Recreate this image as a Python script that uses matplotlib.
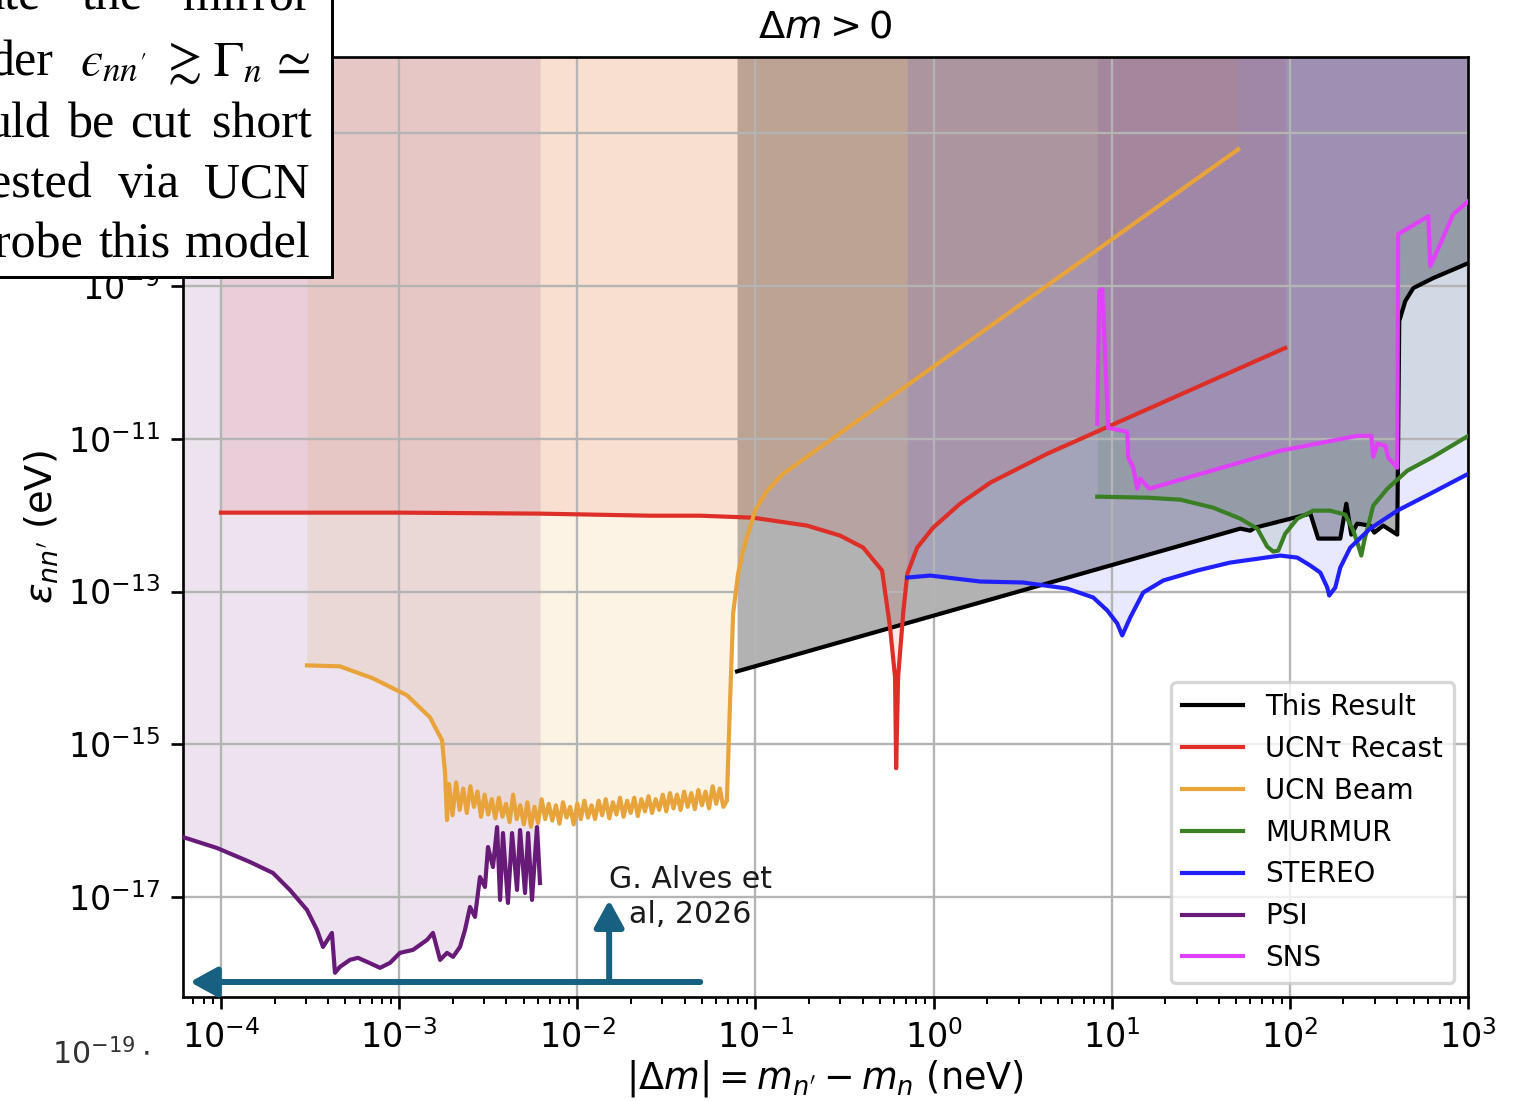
import numpy as np
import matplotlib
matplotlib.use("Agg")
import matplotlib.pyplot as plt
from matplotlib.patches import Rectangle
from matplotlib.transforms import blended_transform_factory

# ---------------------------------------------------------------------------
# Exclusion curves, given as log10(|Δm| / neV) and log10(ε_nn' / eV)
# ---------------------------------------------------------------------------
this_result_ldm = [-1.103, 1.722, 1.778, 1.806, 2.115, 2.159, 2.283, 2.317, 2.345,
                   2.378, 2.451, 2.474, 2.524, 2.586, 2.603, 2.614, 2.648, 2.693,
                   2.805, 3.002]
this_result_leps = [-14.046, -12.176, -12.203, -12.163, -11.980, -12.307, -12.307,
                    -11.850, -12.255, -12.111, -12.137, -12.229, -12.137, -12.229,
                    -12.255, -9.458, -9.196, -9.026, -8.895, -8.699]

ucntau_ldm = [-4.000, -2.995, -2.209, -1.591, -1.310, -1.013, -0.710, -0.524, -0.395,
              -0.289, -0.244, -0.216, -0.210, -0.199, -0.169, -0.147, -0.092, -0.002,
              0.149, 0.318, 0.638, 1.974]
ucntau_leps = [-11.967, -11.967, -11.980, -12.007, -12.007, -12.033, -12.137, -12.268,
               -12.425, -12.725, -13.471, -14.124, -15.314, -14.124, -13.248, -12.765,
               -12.425, -12.163, -11.850, -11.575, -11.196, -9.810]

ucn_beam_ldm = [-3.517, -3.332, -3.147, -2.956, -2.827, -2.759, -2.742, -2.731,
                -2.72, -2.70, -2.68, -2.66, -2.64, -2.62, -2.60, -2.58, -2.56,
                -2.54, -2.52, -2.50, -2.48, -2.46, -2.44, -2.42, -2.40, -2.38, -2.36,
                -2.34, -2.32,
                -2.30, -2.28, -2.26, -2.24, -2.22, -2.20, -2.18,
                -2.16, -2.14, -2.12, -2.10, -2.08, -2.06, -2.04, -2.02, -2.00, -1.98,
                -1.96, -1.94, -1.92,
                -1.90, -1.88, -1.86, -1.84, -1.82, -1.80, -1.78, -1.76, -1.74, -1.72,
                -1.70, -1.68, -1.66, -1.64, -1.62, -1.60, -1.58, -1.56,
                -1.54, -1.52, -1.50, -1.48, -1.46, -1.44, -1.42, -1.40, -1.38, -1.36,
                -1.34, -1.32, -1.30, -1.28, -1.26, -1.24, -1.22, -1.20, -1.18, -1.16,
                -1.153, -1.142, -1.125, -1.097, -1.069, -1.002, -0.934, -0.844, 1.710]
ucn_beam_leps = [-13.967, -13.980, -14.137, -14.359, -14.647, -14.948, -15.379, -15.993,
                 -15.52, -15.93, -15.50, -15.86, -15.58, -15.90, -15.55, -15.82, -15.62,
                 -15.95, -15.66, -15.92, -15.72, -15.97, -15.70, -15.95, -15.78, -16.02,
                 -15.66, -15.98, -15.80,
                 -16.05, -15.76, -16.08, -15.82, -16.03, -15.72, -15.98,
                 -15.78, -16.00, -15.80, -16.04, -15.76, -15.96, -15.82, -16.05, -15.78,
                 -15.98, -15.74, -15.96, -15.80,
                 -15.98, -15.74, -15.93, -15.72, -15.97, -15.76, -15.92, -15.70, -15.95,
                 -15.74, -15.90, -15.70, -15.94, -15.72, -15.88, -15.68, -15.90, -15.72,
                 -15.86, -15.66, -15.88, -15.64, -15.84, -15.66, -15.86, -15.62, -15.82,
                 -15.64, -15.85, -15.60, -15.80, -15.62, -15.84, -15.55, -15.78, -15.58,
                 -15.82, -15.74,
                 -15.209, -14.425, -13.288, -12.765, -12.464, -11.941, -11.680, -11.458,
                 -7.209]

murmur_ldm = [0.919, 1.199, 1.385, 1.570, 1.722, 1.817, 1.873, 1.907, 1.935, 1.974,
              2.042, 2.131, 2.227, 2.311, 2.356, 2.384, 2.401, 2.418, 2.440, 2.468,
              2.547, 2.659, 2.805, 3.002]
murmur_leps = [-11.758, -11.771, -11.797, -11.902, -12.046, -12.176, -12.412, -12.477,
               -12.464, -12.242, -12.046, -11.941, -11.941, -11.993, -12.203, -12.399,
               -12.529, -12.333, -12.137, -11.876, -11.654, -11.418, -11.235, -10.961]

stereo_ldm = [-0.148, -0.019, 0.262, 0.503, 0.750, 0.896, 0.975, 1.031, 1.059, 1.104,
              1.177, 1.289, 1.480, 1.665, 1.946, 2.042, 2.115, 2.171, 2.210, 2.221,
              2.255, 2.283, 2.339, 2.451, 2.603, 2.788, 3.002]
stereo_leps = [-12.817, -12.791, -12.869, -12.882, -12.961, -13.078, -13.248, -13.418,
               -13.575, -13.340, -13.013, -12.856, -12.725, -12.621, -12.529, -12.556,
               -12.660, -12.752, -12.948, -13.052, -12.948, -12.686, -12.425, -12.176,
               -11.941, -11.719, -11.458]

psi_ldm = [-4.213, -4.022, -3.837, -3.708, -3.613, -3.517, -3.461, -3.427, -3.377,
           -3.360, -3.332, -3.276, -3.231, -3.180, -3.107, -3.051, -2.995, -2.922,
           -2.843, -2.810, -2.770, -2.731, -2.697, -2.658, -2.630, -2.602, -2.574,
           -2.546, -2.518, -2.501, -2.473, -2.450, -2.433, -2.417, -2.389, -2.366,
           -2.338, -2.321, -2.293, -2.276, -2.254, -2.226, -2.209]
psi_leps = [-16.216, -16.359, -16.542, -16.686, -16.908, -17.170, -17.431, -17.654,
            -17.471, -17.993, -17.915, -17.824, -17.797, -17.850, -17.928, -17.863,
            -17.732, -17.693, -17.562, -17.471, -17.824, -17.732, -17.784, -17.654,
            -17.431, -17.131, -17.261, -16.739, -16.869, -16.346, -16.608, -16.085,
            -17.039, -16.163, -17.078, -16.163, -16.908, -16.124, -16.948, -16.163,
            -17.039, -16.085, -16.817]

sns_ldm = [0.919, 0.930, 0.947, 0.980, 1.087, 1.093, 1.121, 1.143, 1.160, 1.211,
           1.946, 2.378, 2.457, 2.468, 2.491, 2.536, 2.552, 2.603, 2.608, 2.777,
           2.788, 2.844, 2.917, 3.002]
sns_leps = [-10.804, -9.065, -9.039, -10.856, -10.908, -11.248, -11.379, -11.654,
            -11.523, -11.654, -11.157, -10.961, -10.961, -11.235, -11.065, -11.092,
            -11.248, -11.379, -8.320, -8.085, -8.739, -8.451, -8.059, -7.889]

# label, x, y, line colour, fill alpha
curves = [
    ("This Result", this_result_ldm, this_result_leps, "black", 0.30),
    ("UCN\u03c4 Recast", ucntau_ldm, ucntau_leps, "#DD2E27", 0.11),
    ("UCN Beam", ucn_beam_ldm, ucn_beam_leps, "#E8A33A", 0.13),
    ("MURMUR", murmur_ldm, murmur_leps, "#3B7F24", 0.13),
    ("STEREO", stereo_ldm, stereo_leps, "#2020FF", 0.10),
    ("PSI", psi_ldm, psi_leps, "#681A78", 0.12),
    ("SNS", sns_ldm, sns_leps, "#E040FB", 0.12),
]

x_tick_exponents = [-4, -3, -2, -1, 0, 1, 2, 3]
y_tick_exponents = [-17, -15, -13, -11, -9, -7]
y_tick_shown = [True, True, True, True, True, False]

x_limits = (10 ** -4.213, 1e3)
y_limits = (10 ** -18.31, 1e-6)

W, H, DPI = 1524, 1101, 240
fig = plt.figure(figsize=(W / DPI, H / DPI), dpi=DPI)
ax = fig.add_axes([183 / W, 1 - 997 / H, 1285 / W, 940 / H])

for label, lx, ly, color, alpha in curves:
    x = 10 ** np.asarray(lx)
    y = 10 ** np.asarray(ly)
    ax.fill_between(x, y, y_limits[1], color=color, alpha=alpha, lw=0, zorder=1)
for label, lx, ly, color, alpha in curves:
    x = 10 ** np.asarray(lx)
    y = 10 ** np.asarray(ly)
    ax.plot(x, y, color=color, lw=1.25, label=label, zorder=3)

ax.set_xscale("log")
ax.set_yscale("log")
ax.set_xlim(*x_limits)
ax.set_ylim(*y_limits)
ax.set_xticks([10.0 ** e for e in x_tick_exponents],
              [r"$\mathdefault{10^{%d}}$" % e for e in x_tick_exponents])
ax.xaxis.set_minor_locator(matplotlib.ticker.LogLocator(base=10,
                                                        subs=np.arange(2, 10)))
ax.xaxis.set_minor_formatter(matplotlib.ticker.NullFormatter())
ax.set_yticks([10.0 ** e for e in y_tick_exponents],
              [r"$\mathdefault{10^{%d}}$" % e if show else ""
               for e, show in zip(y_tick_exponents, y_tick_shown)])
ax.yaxis.set_minor_locator(matplotlib.ticker.NullLocator())
ax.grid(True, which="major", color="#b4b4b4", lw=0.7)

ax.set_title(r"$\Delta m > 0$", fontsize=11.5)
ax.set_xlabel(r"$|\Delta m| = m_{n'} - m_n$ (neV)", fontsize=11, labelpad=1)
ax.set_ylabel(r"$\epsilon_{nn'}$ (eV)", fontsize=11.5, labelpad=2)

ax.legend(loc="lower right", fontsize=8.3, handlelength=2.2, labelspacing=0.5)

# Annotation arrows and reference label
arrow_color = "#186082"
arrow_style = dict(arrowstyle="-|>,head_length=0.4,head_width=0.22",
                   mutation_scale=17, color=arrow_color, lw=1.8,
                   shrinkA=0, shrinkB=0)
ax.annotate("", xy=(6.7e-5, 7.7e-19), xytext=(0.049, 7.7e-19),
            arrowprops=arrow_style, zorder=5)
ax.annotate("", xy=(0.0151, 9.1e-18), xytext=(0.0151, 7.7e-19),
            arrowprops=arrow_style, zorder=5)
ax.text(0.043, 1e-17, "G. Alves et\nal, 2026", ha="center", va="center",
        multialignment="center", fontsize=9, color="#1a1a1a",
        linespacing=1.3, zorder=6)

# Stray lower tick label beneath the axis
trans = blended_transform_factory(ax.transAxes, ax.transData)
ax.text((150 - 183) / 1285, 10 ** -19.196, r"$10^{-19}\cdot$", ha="right",
        va="baseline", fontsize=9, color="#333333", transform=trans,
        clip_on=False)


# Excerpt of body text in a framed box, top left
def fx(px):
    return px / W


def fy(py):
    return 1 - py / H


box = Rectangle((fx(-10), fy(277)), fx(342), fy(-10) - fy(277),
                transform=fig.transFigure, facecolor="white", edgecolor="black",
                lw=0.9, zorder=10)
fig.add_artist(box)

serif = dict(family="Liberation Serif", fontsize=15, color="black",
             va="baseline", zorder=11, math_fontfamily="stix")
words = [
    (10, [("ate", 40, "right"), ("the", 82, "left"), ("mirror", 310, "right")]),
    (75, [("der", 53, "right"), ("$\u03f5_{nn'}$", 80, "left"),
          (r"$\gtrsim$", 160, "left"), (r"$\Gamma_n$", 213, "left"),
          (r"$\simeq$", 310, "right")]),
    (137, [("uld", 50, "right"), ("be", 68, "left"), ("cut", 130, "left"),
           ("short", 312, "right")]),
    (197, [("ested", 92, "right"), ("via", 118, "left"), ("UCN", 309, "right")]),
    (257, [("robe", 83, "right"), ("this", 98, "left"), ("model", 310, "right")]),
]
for base, items in words:
    for txt, px, ha in items:
        fig.text(fx(px), fy(base), txt, ha=ha, **serif)

fig.savefig("out.png", dpi=DPI)
